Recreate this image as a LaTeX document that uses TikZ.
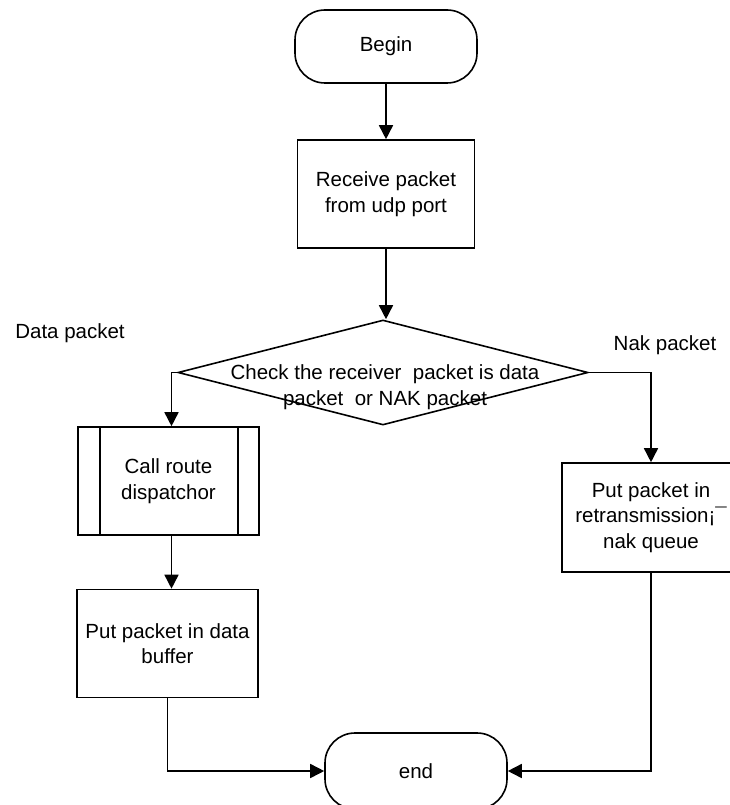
\documentclass[tikz,border=0pt]{standalone}
\usepackage{fontspec}
\setmainfont{Liberation Sans}
\usetikzlibrary{arrows.meta,shapes.geometric}
\begin{document}
\begin{tikzpicture}[x=1pt,y=-1pt,line width=1.6pt,
  every node/.style={font=\fontsize{20.5}{25.5}\selectfont},
  term/.style={draw, rounded corners=30pt, minimum width=182pt, minimum height=73pt, inner sep=0pt},
  proc/.style={draw, minimum width=181pt, minimum height=108pt, inner sep=0pt, align=center},
  arr/.style={-{Triangle[length=14pt,width=14pt]}},
  lab/.style={inner sep=0pt, align=center}
]
\useasboundingbox (0,0) rectangle (730,805);
\clip (0,0) rectangle (730,805);

\node[term] (begin) at (386,46.5) {Begin};
\node[proc, minimum width=177pt] (recv) at (386,194) {Receive packet\\from udp port};
\node[draw, diamond, minimum width=410pt, minimum height=105pt, inner sep=0pt] (diam) at (383,372.5) {};
\node[lab] (q) at (385,387) {Check the receiver\ \ packet is data\\packet\ \ or NAK packet};
\node[proc] (call) at (168.5,481) {Call route\\dispatchor};
\draw ([xshift=23pt]call.north west) -- ([xshift=23pt]call.south west);
\draw ([xshift=-22pt]call.north east) -- ([xshift=-22pt]call.south east);
\node[proc] (buf) at (167.5,643.5) {Put packet in data\\buffer};
\node[proc, minimum width=178pt, minimum height=109pt] (nak) at (651,517.5) {Put packet in\\retransmission¡¯\\nak queue};
\node[term, minimum height=76pt] (end) at (416,771) {end};
\node[lab] (dlab) at (70,333) {Data packet};
\node[lab] (nlab) at (665,345) {Nak packet};

\draw[arr] (begin.south) -- (begin.south |- recv.north);
\draw[arr] (recv.south) -- (recv.south |- diam.north);
\draw[arr] (diam.west) -| ([xshift=3pt]call.north);
\draw[arr] ([xshift=3pt]call.south) -- ([xshift=3pt]call.south |- buf.north);
\draw[arr] (diam.east) -| (nak.north);
\draw[arr] (buf.south) |- (end.west);
\draw[arr] (nak.south) |- (end.east);
\end{tikzpicture}
\end{document}
